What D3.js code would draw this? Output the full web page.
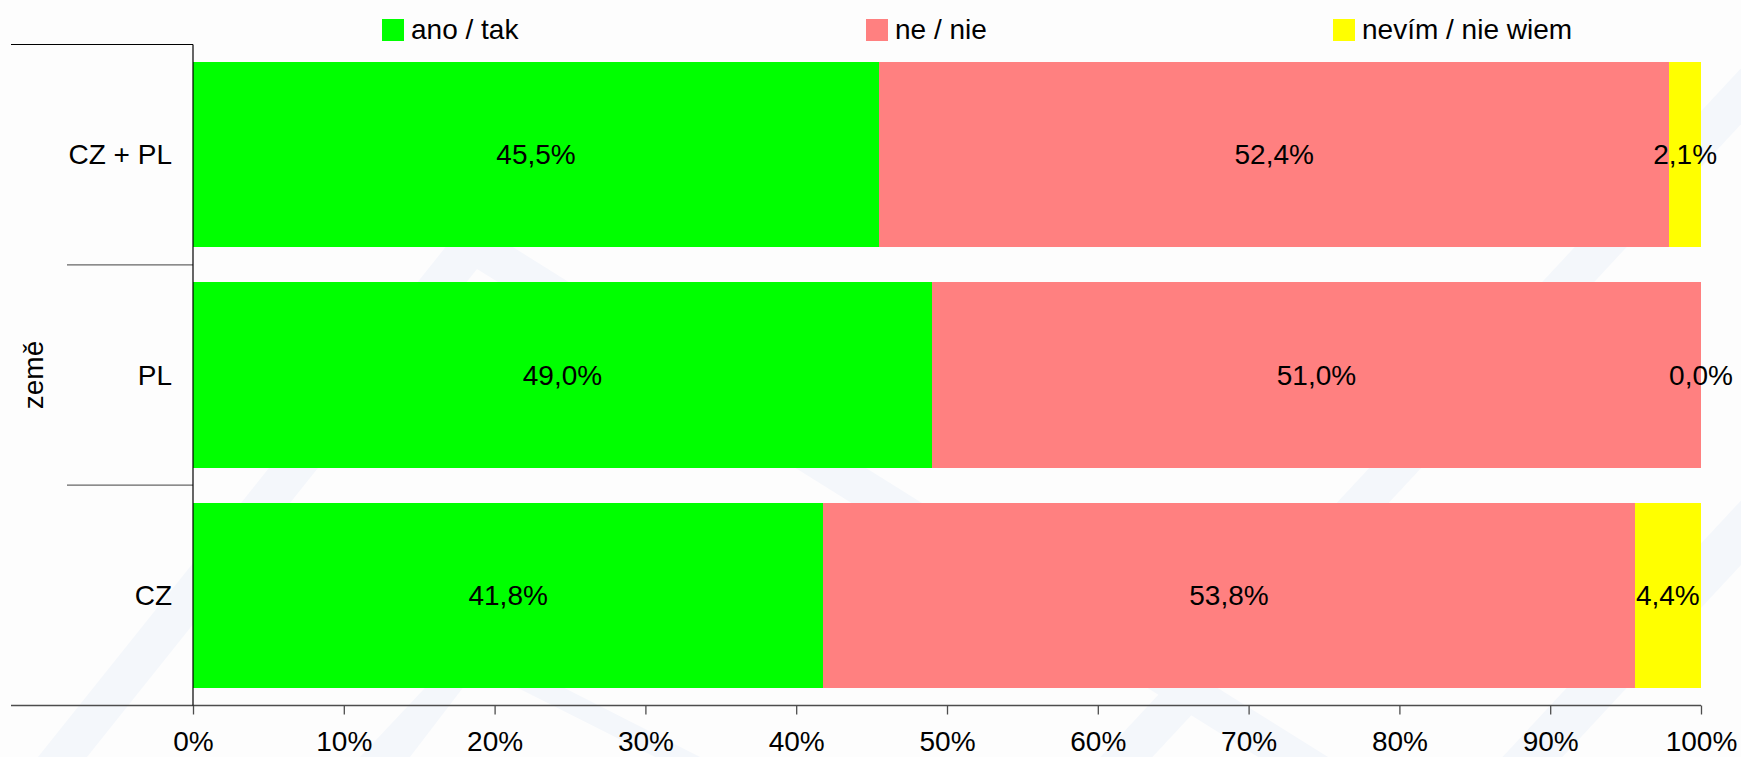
<!DOCTYPE html>
<html>
<head>
<meta charset="utf-8">
<script src="https://cdn.jsdelivr.net/npm/d3@7"></script>
<style>
  html, body { margin: 0; padding: 0; background: #fdfdfd; }
  svg { display: block; font-family: "Liberation Sans", Arial, Helvetica, sans-serif; }
</style>
</head>
<body>
<svg id="chart" width="1741" height="757"></svg>
<script>
// Survey answers by country (percent of respondents)
const categories = ["CZ + PL", "PL", "CZ"];
const seriesNames = ["ano / tak", "ne / nie", "nevím / nie wiem"];
const anoTak = [45.5, 49.0, 41.8];
const neNie = [52.4, 51.0, 53.8];
const nevimNieWiem = [2.1, 0.0, 4.4];
const xTicks = [0, 10, 20, 30, 40, 50, 60, 70, 80, 90, 100];
const axisTitle = "země";

const seriesColors = ["#00ff00", "#ff8080", "#ffff00"];
const seriesValues = [anoTak, neNie, nevimNieWiem];

const W = 1741, H = 757;
const plotLeft = 193, plotRight = 1701, plotTop = 44.5, plotBottom = 705.5;
const fontSize = 28;

const svg = d3.select("#chart");

svg.append("rect").attr("width", W).attr("height", H).attr("fill", "#fdfdfd");

// faint background emblem
const wm = svg.append("g").attr("fill", "#f4f7fb");
const band = (x0, y0, x1, y1, w) =>
  `M${x0},${y0}L${x1},${y1}L${x1 + w},${y1}L${x0 + w},${y0}Z`;
// large chevron
wm.append("path").attr("d",
  "M38,757L468,219L1328,757L1258,757L477,269L87,757Z");
// long rising bands on the right
wm.append("path").attr("d", band(1558 + 0.93 * 265, 0, 1558 - 0.93 * 492, 757, 52));
wm.append("path").attr("d", band(1960 + 0.93 * 265, 0, 1960 - 0.93 * 492, 757, 60));
// small chevron at the bottom
wm.append("path").attr("d", "M360,757L470,640L700,757L655,757L478,668L410,757Z");

// scales
const x = d3.scaleLinear().domain([0, 100]).range([plotLeft, plotRight]);
const y = d3.scaleBand().domain(categories).range([plotTop, plotBottom])
  .paddingInner(0.16).paddingOuter(0.08);

// stacked data
const rows = categories.map((c, i) => {
  const r = { category: c };
  seriesNames.forEach((s, k) => { r[s] = seriesValues[k][i]; });
  return r;
});
const stacked = d3.stack().keys(seriesNames)(rows);
const color = d3.scaleOrdinal().domain(seriesNames).range(seriesColors);

const fmt = v => d3.format(".1f")(v).replace(".", ",") + "%";

// bars
const layers = svg.append("g").selectAll("g").data(stacked).join("g")
  .attr("fill", d => color(d.key));
layers.selectAll("rect").data(d => d).join("rect")
  .attr("x", d => x(d[0]))
  .attr("y", d => y(d.data.category))
  .attr("width", d => x(d[1]) - x(d[0]))
  .attr("height", y.bandwidth())
  .attr("shape-rendering", "crispEdges");

// value labels centred in each segment
const labels = svg.append("g")
  .attr("font-size", fontSize).attr("fill", "#000").attr("text-anchor", "middle");
stacked.forEach(layer => {
  labels.selectAll(null).data(layer).join("text")
    .attr("x", d => x((d[0] + d[1]) / 2))
    .attr("y", d => y(d.data.category) + y.bandwidth() / 2)
    .attr("dy", "0.35em")
    .text(d => fmt(d[1] - d[0]));
});

// x axis
const xAxis = svg.append("g")
  .attr("transform", `translate(0,${plotBottom})`)
  .call(d3.axisBottom(x).tickValues(xTicks).tickSize(9).tickFormat(d => d + "%"));
xAxis.select(".domain").remove();
xAxis.selectAll(".tick line").attr("stroke", "#4d4d4d").attr("stroke-width", 1.3);
xAxis.selectAll(".tick text")
  .attr("font-size", fontSize).attr("font-family", null)
  .attr("fill", "#000").attr("y", 26).attr("dy", "0.71em");
svg.append("line")
  .attr("x1", 11).attr("x2", plotRight).attr("y1", plotBottom).attr("y2", plotBottom)
  .attr("stroke", "#4d4d4d").attr("stroke-width", 1.3);

// y axis: category separators, frame and labels
const boundaries = categories.slice(1).map(c => y(c) - y.step() * y.paddingInner() / 2);
svg.append("g").selectAll("line").data(boundaries).join("line")
  .attr("x1", 67).attr("x2", plotLeft).attr("y1", d => d).attr("y2", d => d)
  .attr("stroke", "#666").attr("stroke-width", 1.3);
svg.append("line")
  .attr("x1", 11).attr("x2", plotLeft).attr("y1", plotTop).attr("y2", plotTop)
  .attr("stroke", "#000").attr("stroke-width", 1.2);
svg.append("line")
  .attr("x1", plotLeft).attr("x2", plotLeft).attr("y1", plotTop).attr("y2", plotBottom)
  .attr("stroke", "#000").attr("stroke-width", 1.2);

svg.append("g").selectAll("text").data(categories).join("text")
  .attr("x", plotLeft - 21)
  .attr("y", d => y(d) + y.bandwidth() / 2)
  .attr("dy", "0.35em")
  .attr("text-anchor", "end")
  .attr("font-size", fontSize)
  .text(d => d);

svg.append("text")
  .attr("transform", `translate(43,${(plotTop + plotBottom) / 2}) rotate(-90)`)
  .attr("text-anchor", "middle")
  .attr("font-size", fontSize)
  .text(axisTitle);

// legend
const legendX = [382, 866, 1333];
const legend = svg.append("g").selectAll("g").data(seriesNames).join("g")
  .attr("transform", (d, i) => `translate(${legendX[i]},19)`);
legend.append("rect").attr("width", 22).attr("height", 22)
  .attr("fill", d => color(d));
legend.append("text").attr("x", 29).attr("y", 20)
  .attr("font-size", fontSize).text(d => d);
</script>
</body>
</html>
